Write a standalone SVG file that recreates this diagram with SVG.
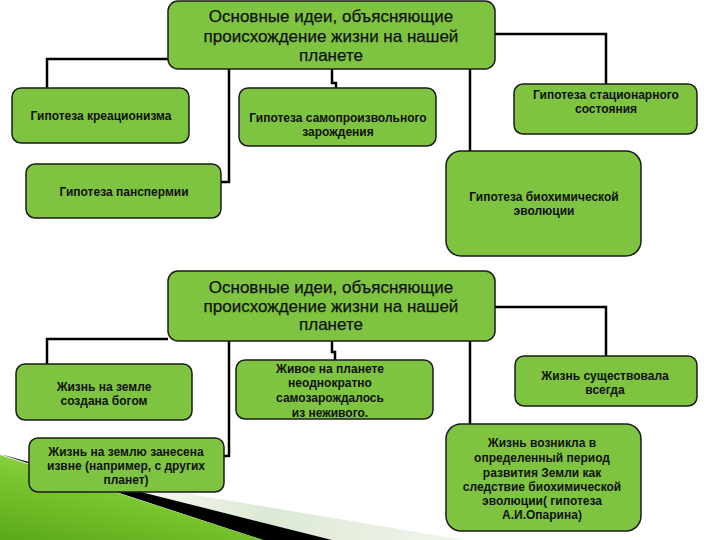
<svg xmlns="http://www.w3.org/2000/svg" width="720" height="540" viewBox="0 0 720 540">
<defs>
<linearGradient id="gGreen" x1="0" y1="1" x2="0.6" y2="0">
<stop offset="0" stop-color="#5aa918"/>
<stop offset="0.6" stop-color="#7cc832"/>
<stop offset="1" stop-color="#a6dc6a"/>
</linearGradient>
<linearGradient id="gLight" x1="0" y1="0" x2="1" y2="0">
<stop offset="0" stop-color="#eef4e8" stop-opacity="0.3"/>
<stop offset="0.5" stop-color="#dce8d4"/>
<stop offset="1" stop-color="#eaf1e4" stop-opacity="0.7"/>
</linearGradient>
</defs>
<style>
.box{fill:#7fc440;stroke:#1b1b1b;stroke-width:1.5}
.hdr{font-family:"Liberation Sans",Arial,sans-serif;font-size:17px;fill:#111;text-anchor:middle;stroke:#111;stroke-width:0.25}
.t{font-family:"Liberation Sans",Arial,sans-serif;font-size:12px;font-weight:bold;fill:#111;text-anchor:middle}
.c{fill:none;stroke:#000;stroke-width:2.5}
</style>
<rect width="720" height="540" fill="#fff"/>
<g id="decor">
<polygon points="70,474 465,540 330,540 105,484" fill="url(#gLight)"/>
<polygon points="0,454 105,483 332,540 263,540" fill="#000"/>
<polygon points="0,455 263,540 0,540" fill="url(#gGreen)"/>
</g>
<g id="connectors">
<polyline class="c" points="168,59 47,59 47,88"/>
<polyline class="c" points="229,69 229,182 221,182"/>
<polyline class="c" points="332,69 332,83 336,83 336,88"/>
<polyline class="c" points="495,34 606,34 606,84"/>
<polyline class="c" points="470,69 470,151"/>
<polyline class="c" points="168,339 47,339 47,364"/>
<polyline class="c" points="229,341 229,456 224,456"/>
<polyline class="c" points="332,341 332,352 335,352 335,360"/>
<polyline class="c" points="495,307 606,307 606,356"/>
<polyline class="c" points="470,341 470,424"/>
</g>
<g id="header1">
<rect class="box" x="168" y="1" width="327" height="68" rx="10"/>
<text class="hdr" x="331" y="22">Основные идеи, объясняющие</text>
<text class="hdr" x="331" y="42">происхождение жизни на нашей</text>
<text class="hdr" x="331" y="61">планете</text>
</g>
<g id="creationism">
<rect class="box" x="12" y="88" width="177" height="55" rx="9"/>
<text class="t" x="101" y="120">Гипотеза креационизма</text>
</g>
<g id="panspermia">
<rect class="box" x="26" y="164" width="195" height="54" rx="9"/>
<text class="t" x="124" y="196">Гипотеза панспермии</text>
</g>
<g id="spontaneous">
<rect class="box" x="239" y="88" width="197" height="58" rx="9"/>
<text class="t" x="338" y="122">Гипотеза самопроизвольного</text>
<text class="t" x="338" y="136">зарождения</text>
</g>
<g id="stationary">
<rect class="box" x="514" y="84" width="183" height="50" rx="9"/>
<text class="t" x="606" y="99">Гипотеза стационарного</text>
<text class="t" x="606" y="113">состояния</text>
</g>
<g id="biochemical">
<rect class="box" x="446" y="151" width="195" height="105" rx="15"/>
<text class="t" x="544" y="201">Гипотеза биохимической</text>
<text class="t" x="544" y="215">эволюции</text>
</g>
<g id="header2">
<rect class="box" x="168" y="271" width="327" height="70" rx="10"/>
<text class="hdr" x="331" y="293">Основные идеи, объясняющие</text>
<text class="hdr" x="331" y="312">происхождение жизни на нашей</text>
<text class="hdr" x="331" y="330">планете</text>
</g>
<g id="god">
<rect class="box" x="16" y="364" width="176" height="56" rx="9"/>
<text class="t" x="104" y="391">Жизнь на земле</text>
<text class="t" x="104" y="405">создана богом</text>
</g>
<g id="outside">
<rect class="box" x="29" y="438" width="195" height="54" rx="9"/>
<text class="t" x="126" y="456">Жизнь на землю занесена</text>
<text class="t" x="126" y="470">извне (например, с других</text>
<text class="t" x="126" y="484">планет)</text>
</g>
<g id="spont2">
<rect class="box" x="236" y="360" width="197" height="59" rx="9"/>
<text class="t" x="330" y="373">Живое на планете</text>
<text class="t" x="330" y="387">неоднократно</text>
<text class="t" x="330" y="402">самозарождалось</text>
<text class="t" x="330" y="417">из неживого.</text>
</g>
<g id="always">
<rect class="box" x="515" y="356" width="182" height="50" rx="9"/>
<text class="t" x="605" y="380">Жизнь существовала</text>
<text class="t" x="605" y="394">всегда</text>
</g>
<g id="oparin">
<rect class="box" x="446" y="424" width="195" height="107" rx="15"/>
<text class="t" x="542" y="447">Жизнь возникла в</text>
<text class="t" x="542" y="462">определенный период</text>
<text class="t" x="542" y="477">развития Земли как</text>
<text class="t" x="542" y="491">следствие биохимической</text>
<text class="t" x="542" y="505">эволюции( гипотеза</text>
<text class="t" x="542" y="519">А.И.Опарина)</text>
</g>
</svg>
